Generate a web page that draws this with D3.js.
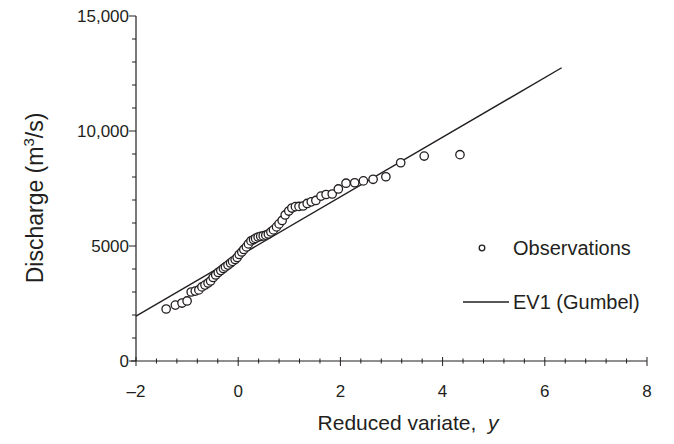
<!DOCTYPE html>
<html>
<head>
<meta charset="utf-8">
<script src="https://cdn.jsdelivr.net/npm/d3@7"></script>
<style>
  html, body { margin: 0; padding: 0; background: #fff; }
  svg { display: block; }
  text { font-family: "Liberation Sans", Arial, Helvetica, sans-serif; fill: #231f20; }
</style>
</head>
<body>
<svg id="chart" width="674" height="444"></svg>
<script>
// Annual peak discharges (m3/s) against Gumbel reduced variate
const obsY = [
  -1.41, -1.23, -1.10, -1.00, -0.92, -0.84, -0.77, -0.71, -0.65, -0.59,
  -0.54, -0.49, -0.44, -0.39, -0.34, -0.29, -0.25, -0.20, -0.15, -0.11,
  -0.06, -0.02, 0.02, 0.07, 0.11, 0.16, 0.20, 0.25, 0.30, 0.34,
  0.39, 0.44, 0.49, 0.54, 0.59, 0.64, 0.69, 0.75, 0.80, 0.86,
  0.92, 0.99, 1.05, 1.12, 1.19, 1.27, 1.35, 1.43, 1.52, 1.62,
  1.72, 1.84, 1.96, 2.11, 2.28, 2.45, 2.64, 2.89, 3.18, 3.64, 4.34
];
const obsQ = [
  2260, 2430, 2520, 2610, 3000, 3040, 3090, 3220, 3300, 3390,
  3480, 3630, 3740, 3850, 3930, 4020, 4090, 4170, 4260, 4330,
  4410, 4500, 4630, 4740, 4850, 4960, 5090, 5220, 5280, 5330,
  5390, 5420, 5440, 5470, 5520, 5610, 5700, 5830, 5960, 6110,
  6350, 6520, 6650, 6710, 6720, 6740, 6850, 6920, 6980, 7170,
  7240, 7260, 7480, 7730, 7750, 7830, 7900, 8010, 8620, 8910, 8970
];

// EV1 (Gumbel) fitted line end points
const fitY = [-2, 6.33];
const fitQ = [1950, 12750];

const xTickVals = [-2, 0, 2, 4, 6, 8];
const xTickLabels = ["\u20132", "0", "2", "4", "6", "8"];
const yTickVals = [0, 5000, 10000, 15000];
const yTickLabels = ["0", "5000", "10,000", "15,000"];

const ink = "#231f20";
const svg = d3.select("#chart");

const x = d3.scaleLinear().domain([-2, 8]).range([136, 647]);
const yScale = d3.scaleLinear().domain([0, 15000]).range([361, 16]);

// ---- axes ----
const gAx = svg.append("g");

// y axis line and ticks
gAx.append("line")
  .attr("x1", x(-2)).attr("x2", x(-2))
  .attr("y1", yScale(0)).attr("y2", yScale(15000))
  .attr("stroke", ink).attr("stroke-width", 1.2);
d3.range(0, 15001, 1000).forEach(v => {
  const major = v % 5000 === 0;
  gAx.append("line")
    .attr("x1", x(-2) - (major ? 7 : 4)).attr("x2", x(-2))
    .attr("y1", yScale(v)).attr("y2", yScale(v))
    .attr("stroke", ink).attr("stroke-width", 1);
});
yTickVals.forEach((v, i) => {
  gAx.append("text")
    .attr("x", x(-2) - 7).attr("y", yScale(v))
    .attr("dy", "0.36em")
    .attr("text-anchor", "end")
    .attr("font-size", 17)
    .text(yTickLabels[i]);
});

// x axis line and ticks
gAx.append("line")
  .attr("x1", x(-2) - 5).attr("x2", x(8))
  .attr("y1", yScale(0)).attr("y2", yScale(0))
  .attr("stroke", ink).attr("stroke-width", 1.2);
d3.range(0, 26).forEach(k => {
  const v = -2 + k * 0.4;
  const major = k % 5 === 0;
  gAx.append("line")
    .attr("x1", x(v)).attr("x2", x(v))
    .attr("y1", yScale(0) - (major ? 4 : 2.5)).attr("y2", yScale(0) + (major ? 5 : 2.5))
    .attr("stroke", ink).attr("stroke-width", 1);
});
xTickVals.forEach((v, i) => {
  gAx.append("text")
    .attr("x", x(v)).attr("y", yScale(0) + 36)
    .attr("text-anchor", "middle")
    .attr("font-size", 17)
    .text(xTickLabels[i]);
});

// axis titles
const xt = svg.append("text")
  .attr("x", 408).attr("y", 430)
  .attr("text-anchor", "middle")
  .attr("font-size", 21);
xt.append("tspan").text("Reduced variate,\u00a0 ");
xt.append("tspan").attr("font-style", "italic").text("y");

const yt = svg.append("text")
  .attr("transform", "translate(43,198) rotate(-90)")
  .attr("text-anchor", "middle")
  .attr("font-size", 23);
yt.append("tspan").text("Discharge (m");
yt.append("tspan").attr("font-size", 15).attr("dy", -9).text("3");
yt.append("tspan").attr("dy", 9).text("/s)");

// ---- fitted line ----
svg.append("path")
  .datum(fitY.map((v, i) => [v, fitQ[i]]))
  .attr("d", d3.line().x(d => x(d[0])).y(d => yScale(d[1])))
  .attr("fill", "none")
  .attr("stroke", ink)
  .attr("stroke-width", 1.4);

// ---- observations ----
svg.append("g").selectAll("circle")
  .data(obsY.map((v, i) => [v, obsQ[i]]))
  .join("circle")
  .attr("cx", d => x(d[0]))
  .attr("cy", d => yScale(d[1]))
  .attr("r", 4.2)
  .attr("fill", "#fff")
  .attr("stroke", ink)
  .attr("stroke-width", 1.3);

// ---- legend ----
const lg = svg.append("g");
lg.append("circle")
  .attr("cx", 482).attr("cy", 248).attr("r", 2.8)
  .attr("fill", "#fff").attr("stroke", ink).attr("stroke-width", 1.3);
lg.append("text")
  .attr("x", 513).attr("y", 255)
  .attr("font-size", 20)
  .text("Observations");
lg.append("line")
  .attr("x1", 463).attr("x2", 509).attr("y1", 302).attr("y2", 302)
  .attr("stroke", ink).attr("stroke-width", 1.4);
lg.append("text")
  .attr("x", 513).attr("y", 309)
  .attr("font-size", 20)
  .text("EV1 (Gumbel)");
</script>
</body>
</html>
